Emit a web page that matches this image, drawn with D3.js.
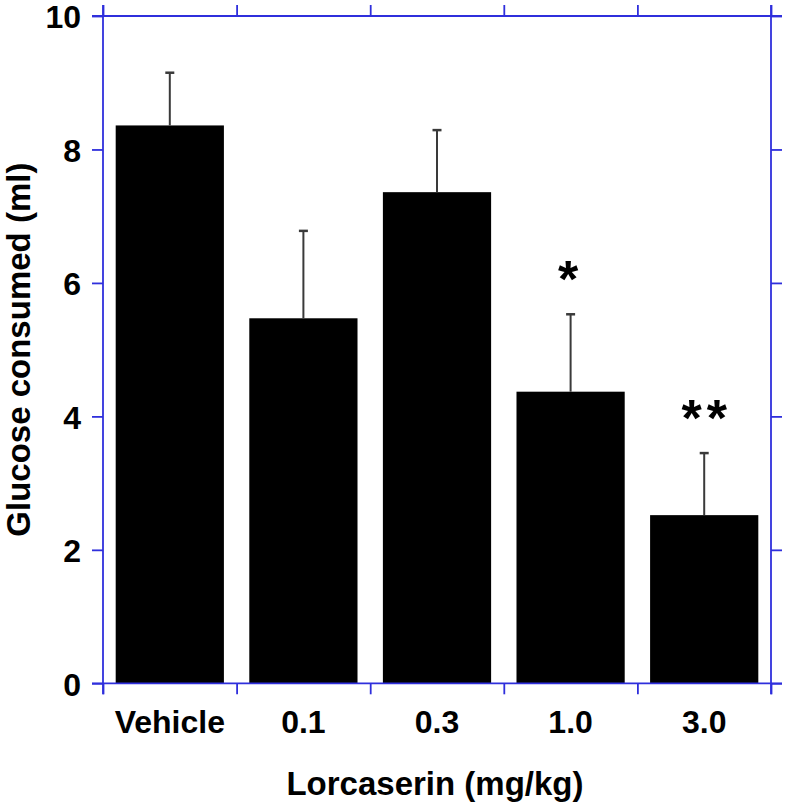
<!DOCTYPE html>
<html>
<head>
<meta charset="utf-8">
<script src="https://cdn.jsdelivr.net/npm/d3@7"></script>
<style>
  html, body { margin: 0; padding: 0; background: #fff; }
  svg { display: block; }
  text { font-family: "Liberation Sans", Arial, Helvetica, sans-serif; font-weight: bold; fill: #000; }
</style>
</head>
<body>
<svg id="chart" width="786" height="803"></svg>
<script>
// ---- data ----
const categories = ["Vehicle", "0.1", "0.3", "1.0", "3.0"];
const means = [8.36, 5.47, 7.36, 4.37, 2.52];
const sems = [0.79, 1.31, 0.93, 1.16, 0.93];
const significance = ["", "", "", "*", "**"];
const yTicks = [0, 2, 4, 6, 8, 10];
const yTitle = "Glucose consumed (ml)";
const xTitle = "Lorcaserin (mg/kg)";

(function () {
// ---- layout ----
const svg = d3.select("#chart");
const pLeft = 103, pRight = 771, pTop = 16, pBottom = 683.3;
const axisColor = "#2f2fdc";
const ext = 11;

const x = d3.scaleBand().domain(categories).range([pLeft, pRight]).padding(0);
const y = d3.scaleLinear().domain([0, 10]).range([pBottom, pTop]);
const xb = d3.scaleLinear().domain([0, categories.length]).range([pLeft, pRight]);

const barW = x.bandwidth() * 0.81;

// bars
svg.append("g").selectAll("rect")
  .data(categories)
  .join("rect")
  .attr("x", (d) => x(d) + (x.bandwidth() - barW) / 2)
  .attr("y", (d, i) => y(means[i]))
  .attr("width", barW)
  .attr("height", (d, i) => y(0) - y(means[i]))
  .attr("fill", "#000");

// error bars
const eg = svg.append("g").attr("stroke", "#3a3a3a").attr("stroke-width", 2);
categories.forEach((c, i) => {
  const cx = x(c) + x.bandwidth() / 2;
  eg.append("line").attr("x1", cx).attr("x2", cx)
    .attr("y1", y(means[i])).attr("y2", y(means[i] + sems[i]));
  eg.append("line").attr("x1", cx - 4.5).attr("x2", cx + 4.5)
    .attr("y1", y(means[i] + sems[i])).attr("y2", y(means[i] + sems[i]))
    .attr("stroke-width", 2.5);
});

// significance stars
svg.append("g").selectAll("text")
  .data(categories)
  .join("text")
  .attr("x", (d) => x(d) + x.bandwidth() / 2)
  .attr("y", (d, i) => y(means[i] + sems[i]) - 17)
  .attr("text-anchor", "middle")
  .attr("font-size", 52)
  .attr("letter-spacing", 5)
  .attr("dx", (d, i) => significance[i].length > 1 ? 2.5 : 0)
  .text((d, i) => significance[i]);

// left axis with labels
const gl = svg.append("g").attr("transform", `translate(${pLeft},0)`)
  .call(d3.axisLeft(y).tickValues(yTicks).tickFormat(d3.format("d")).tickSize(ext).tickPadding(11));
gl.selectAll(".tick text").attr("dy", "0.37em");
// right axis
const gr = svg.append("g").attr("transform", `translate(${pRight},0)`)
  .call(d3.axisRight(y).tickValues(yTicks).tickFormat("").tickSize(ext));
// bottom axis boundary ticks
const gb = svg.append("g").attr("transform", `translate(0,${pBottom})`)
  .call(d3.axisBottom(xb).ticks(categories.length).tickFormat("").tickSize(ext));
// top axis boundary ticks
const gt = svg.append("g").attr("transform", `translate(0,${pTop})`)
  .call(d3.axisTop(xb).ticks(categories.length).tickFormat("").tickSize(ext));
// category labels
const gc = svg.append("g").attr("transform", `translate(0,${pBottom})`)
  .call(d3.axisBottom(x).tickSize(0).tickPadding(27));

[gl, gr, gb, gt, gc].forEach((g) => {
  g.select(".domain").remove();
  g.selectAll(".tick line").attr("stroke", axisColor).attr("stroke-width", 1.8);
  g.selectAll("text").attr("font-size", 32).attr("fill", "#000")
    .attr("font-family", '"Liberation Sans", Arial, sans-serif').attr("font-weight", "bold");
});

// frame lines extended past corners
const fr = svg.append("g").attr("stroke", axisColor).attr("stroke-width", 1.8);
fr.append("line").attr("x1", pLeft - ext).attr("x2", pRight + ext).attr("y1", y(0)).attr("y2", y(0));
fr.append("line").attr("x1", pLeft - ext).attr("x2", pRight + ext).attr("y1", y(10)).attr("y2", y(10));
fr.append("line").attr("x1", pLeft).attr("x2", pLeft).attr("y1", pTop - ext).attr("y2", pBottom + ext);
fr.append("line").attr("x1", pRight).attr("x2", pRight).attr("y1", pTop - ext).attr("y2", pBottom + ext);

// axis titles
svg.append("text")
  .attr("x", 435)
  .attr("y", 795)
  .attr("text-anchor", "middle")
  .attr("font-size", 33)
  .text(xTitle);
svg.append("text")
  .attr("transform", `translate(30,${(pTop + pBottom) / 2}) rotate(-90)`)
  .attr("text-anchor", "middle")
  .attr("font-size", 33)
  .text(yTitle);
})();
</script>
</body>
</html>
